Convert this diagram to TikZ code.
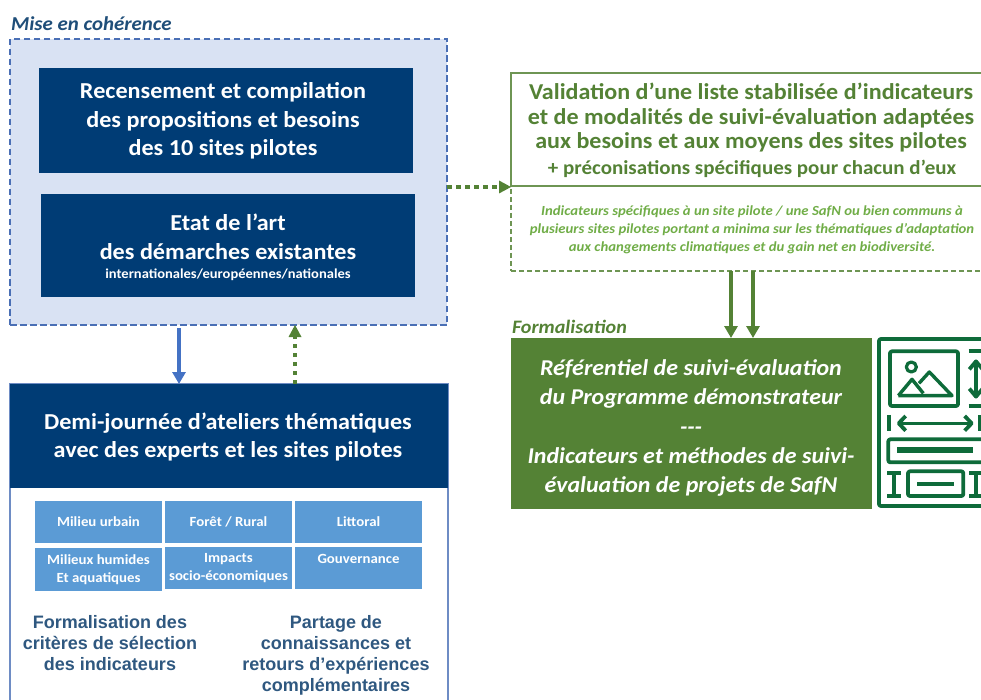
\documentclass[tikz,border=0pt]{standalone}
\usepackage{fontspec}
\setmainfont{Carlito}[FakeStretch=1.06]
\newfontfamily\arialf{Liberation Sans}
\usetikzlibrary{arrows.meta}
\definecolor{navy}{HTML}{003C75}
\definecolor{paleblue}{HTML}{D9E2F3}
\definecolor{dashblue}{HTML}{4A6FB5}
\definecolor{arrowblue}{HTML}{4472C4}
\definecolor{cellblue}{HTML}{5B9BD5}
\definecolor{leaf}{HTML}{548235}
\definecolor{lightleaf}{HTML}{70AD47}
\definecolor{titleblue}{HTML}{1F4E79}
\definecolor{bodyblue}{HTML}{2F5880}
\definecolor{icongreen}{HTML}{0E6B3A}
\tikzset{
  zone/.style={anchor=north west,inner sep=0pt,outer sep=0pt},
  darkbox/.style={zone,fill=navy},
  cell/.style={zone,fill=cellblue,text=white,font=\bfseries\fontsize{14}{18}\selectfont,align=center},
  txt/.style={inner sep=0pt,outer sep=0pt,align=center},
  whitetxt/.style={txt,text=white,font=\bfseries\fontsize{22.8}{28.5}\selectfont},
  solidarrow/.style={line width=4pt,-{Triangle[length=12pt,width=13pt]}},
  dotarrow/.style={line width=4pt,leaf,dash pattern=on 4.5pt off 4.5pt,-{Triangle[length=12pt,width=13pt,line width=0pt,sep=0pt]}},
  iconstroke/.style={draw=icongreen,line width=3.8pt,line join=round},
}
\begin{document}
\begin{tikzpicture}[x=1pt,y=-1pt]
\useasboundingbox (0,0) rectangle (981,700);
\clip (0,0) rectangle (981,700);
% left upper
\node[txt,anchor=base west,text=titleblue,font=\bfseries\itshape\fontsize{19.7}{20}\selectfont] (t1) at (11,31) {Mise en cohérence};
\node[zone,fill=paleblue,draw=dashblue,line width=1.3pt,dash pattern=on 6.5pt off 3.5pt,minimum width=437pt,minimum height=286pt] (outer) at (10,39) {};
\node[darkbox,minimum width=374pt,minimum height=105pt] (b1) at (39,68) {};
\node[whitetxt] (b1t) at (223,121) {Recensement et compilation\\des propositions et besoins\\des 10 sites pilotes};
\node[darkbox,minimum width=374pt,minimum height=103pt] (b2) at (41,194) {};
\node[whitetxt] (b2a) at (228,237) {Etat de l’art\\des démarches existantes};
\node[txt,text=white,font=\bfseries\fontsize{13.7}{15}\selectfont] (b2b) at (228,275) {internationales/européennes/nationales};
% left lower
\node[zone,draw=dashblue!80,line width=1.3pt,minimum width=438pt,minimum height=330pt] (lower) at (10,384) {};
\node[darkbox,minimum width=438pt,minimum height=104pt] (head) at (10,384) {};
\node[whitetxt] (headt) at (228,437) {Demi-journée d’ateliers thématiques\\avec des experts et les sites pilotes};
\node[cell,minimum width=127pt,minimum height=42pt] (c1) at (35,501) {Milieu urbain};
\node[cell,minimum width=127pt,minimum height=42pt] (c2) at (165,501) {Forêt / Rural};
\node[cell,minimum width=127pt,minimum height=42pt] (c3) at (295,501) {Littoral};
\node[cell,minimum width=127pt,minimum height=43pt] (c4) at (35,548) {Milieux humides\\Et aquatiques};
\node[cell,minimum width=127pt,minimum height=42pt] (c5) at (165,547) {Impacts\\socio-économiques};
\node[cell,minimum width=127pt,minimum height=42pt] (c6) at (295,547) {Gouvernance\\\mbox{}};
\node[txt,anchor=north,text=bodyblue,font=\arialf\bfseries\fontsize{18}{21}\selectfont] (f1) at (110,615) {Formalisation des\\critères de sélection\\des indicateurs};
\node[txt,anchor=north,text=bodyblue,font=\arialf\bfseries\fontsize{18}{21.3}\selectfont] (f2) at (336,615) {Partage de\\connaissances et\\retours d’expériences\\complémentaires};
% right
\node[zone,draw=leaf!85,line width=1.2pt,dash pattern=on 5pt off 3pt,minimum width=480pt,minimum height=85pt] (note) at (511,186) {};
\node[zone,draw=leaf!85,fill=white,line width=1.5pt,minimum width=480pt,minimum height=113pt] (valid) at (511,73) {};
\node[txt,text=leaf,font=\bfseries\fontsize{22.7}{24.5}\selectfont] (v1) at (751,118) {Validation d’une liste stabilisée d’indicateurs\\et de modalités de suivi-évaluation adaptées\\aux besoins et aux moyens des sites pilotes};
\node[txt,text=leaf,font=\bfseries\fontsize{19.8}{20}\selectfont] (v2) at (752,169) {+ préconisations spécifiques pour chacun d’eux};
\node[txt,text=lightleaf,font=\bfseries\itshape\fontsize{13.9}{18}\selectfont] (v3) at (752,230) {Indicateurs spécifiques à un site pilote / une SafN ou bien communs à\\plusieurs sites pilotes portant a minima sur les thématiques d’adaptation\\aux changements climatiques et du gain net en biodiversité.};
\node[txt,anchor=base west,text=leaf,font=\bfseries\itshape\fontsize{19}{20}\selectfont] (t2) at (512,333) {Formalisation};
\node[zone,fill=leaf,minimum width=361pt,minimum height=171pt] (form) at (511,338) {};
\node[txt,text=white,font=\bfseries\itshape\fontsize{22.6}{29.3}\selectfont] (formt) at (691,428) {Référentiel de suivi-évaluation\\du Programme démonstrateur\\{-}{-}{-}\\Indicateurs et méthodes de suivi-\\évaluation de projets de SafN};
% connectors
\coordinate (a1s) at (179,325);
\coordinate (a1e) at (179,384);
\coordinate (a2s) at (295,384);
\coordinate (a2e) at (295,325);
\coordinate (a3s) at (447,187);
\coordinate (a3e) at (511,187);
\coordinate (a4s) at (731,271);
\coordinate (a4e) at (731,338);
\coordinate (a5s) at (753,271);
\coordinate (a5e) at (753,338);
\draw[solidarrow,arrowblue,shorten <=3pt] (a1s) -- (a1e);
\draw[dotarrow] (a2s) -- (a2e);
\draw[dotarrow] (a3s) -- (a3e);
\draw[solidarrow,leaf] (a4s) -- (a4e);
\draw[solidarrow,leaf] (a5s) -- (a5e);
% icon
\begin{scope}[shift={(870,330)},x=0.3333pt,y=-0.3333pt,line cap=butt]
\draw[iconstroke,rounded corners=2pt] (27,27) rectangle (360,528);
\draw[iconstroke,rounded corners=2pt] (60,64) rectangle (264,228);
\draw[iconstroke,line width=3.2pt] (124,111) circle (15);
\draw[iconstroke,line width=3.4pt] (85,197) -- (126,148) -- (160,190);
\draw[iconstroke,line width=3.4pt] (85,197) -- (246,197) -- (178,126) -- (147,160);
\draw[iconstroke] (296,64) -- (340,64);
\draw[iconstroke] (296,229) -- (340,229);
\draw[iconstroke] (318,95) -- (318,198);
\draw[iconstroke] (298,118) -- (318,94) -- (338,118);
\draw[iconstroke] (298,176) -- (318,200) -- (338,176);
\draw[iconstroke,line width=4.5pt] (57,255) -- (57,302);
\draw[iconstroke,line width=4.5pt] (332,255) -- (332,302);
\draw[iconstroke,line width=3.2pt] (88,280) -- (303,280);
\draw[iconstroke] (107,258) -- (86,280) -- (107,302);
\draw[iconstroke] (284,258) -- (305,280) -- (284,302);
\draw[iconstroke,rounded corners=2pt] (55,328) rectangle (360,397);
\fill[icongreen] (82,352) rectangle (310,369);
\draw[iconstroke,rounded corners=2pt] (114,424) rectangle (280,498);
\fill[icongreen] (140,455) rectangle (251,468);
\draw[iconstroke] (52,428) -- (94,428) (73,428) -- (73,497) (52,497) -- (94,497);
\draw[iconstroke] (298,428) -- (340,428) (319,428) -- (319,497) (298,497) -- (340,497);
\end{scope}
\end{tikzpicture}
\end{document}
